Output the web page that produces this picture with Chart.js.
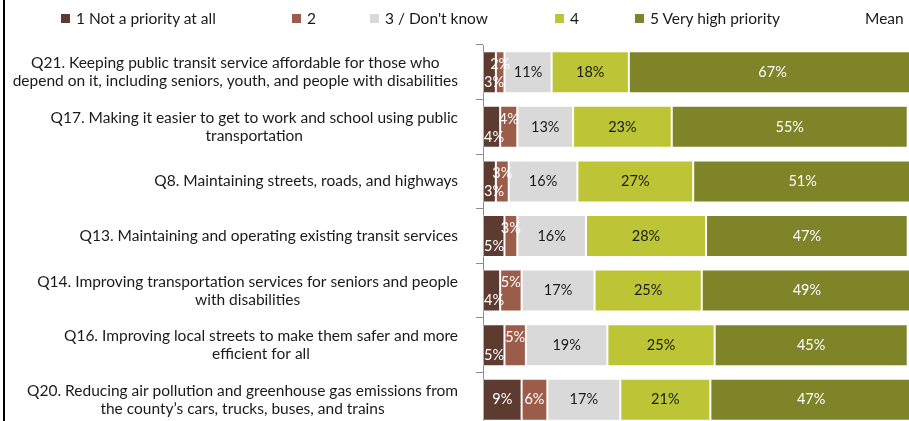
<!DOCTYPE html>
<html><head><meta charset="utf-8">
<script src="https://cdn.jsdelivr.net/npm/chart.js@4/dist/chart.umd.min.js"></script>
<style>
html,body{margin:0;padding:0;background:#fff;overflow:hidden;width:909px;height:421px;}
#wrap{position:relative;width:966px;height:440px;}
#frame{position:absolute;left:3px;top:0;width:2px;height:421px;background:#000;z-index:2}
#legend{position:absolute;left:0;top:9px;width:966px;height:18px;font:15.5px Lato, sans-serif;color:#1a1a1a;line-height:18px;z-index:2}
.item{position:absolute;top:0;display:flex;align-items:center;white-space:nowrap}
.box{width:9px;height:9px;margin-right:6px;display:inline-block}
canvas{display:block}
</style></head>
<body>
<div id="wrap"><div id="frame"></div><div id="legend"></div><canvas id="c" width="966" height="440"></canvas></div>
<script>
const categories = [
  ["Q21. Keeping public transit service affordable for those who", "depend on it, including seniors, youth, and people with disabilities"],
  ["Q17. Making it easier to get to work and school using public", "transportation"],
  ["Q8. Maintaining streets, roads, and highways"],
  ["Q13. Maintaining and operating existing transit services"],
  ["Q14. Improving transportation services for seniors and people", "with disabilities"],
  ["Q16. Improving local streets to make them safer and more", "efficient for all"],
  ["Q20. Reducing air pollution and greenhouse gas emissions from", "the county\u2019s cars, trucks, buses, and trains"]
];
const notPriority = [3, 4, 3, 5, 4, 5, 9];
const two = [2, 4, 3, 3, 5, 5, 6];
const dontKnow = [11, 13, 16, 16, 17, 19, 17];
const four = [18, 23, 27, 28, 25, 25, 21];
const veryHigh = [67, 55, 51, 47, 49, 45, 47];
const legendLabels = ["1 Not a priority at all", "2", "3 / Don't know", "4", "5 Very high priority", "Mean"];

// styles
const colors = ['#5e3b30', '#9b5d4a', '#d9d9d9', '#bdc536', '#7f8428'];
const labelColors = ['#ffffff', '#ffffff', '#1a1a1a', '#1a1a1a', '#ffffff'];
const legendItemLeft = [61, 292, 370, 555, 635, 850];
const series = [notPriority, two, dontKnow, four, veryHigh];

// HTML legend
const leg = document.getElementById('legend');
legendLabels.forEach((t, i) => {
  const it = document.createElement('div'); it.className = 'item';
  it.style.left = legendItemLeft[i] + 'px';
  const b = document.createElement('span'); b.className = 'box';
  b.style.background = i < colors.length ? colors[i] : 'transparent';
  const s = document.createElement('span'); s.textContent = t;
  it.appendChild(b); it.appendChild(s); leg.appendChild(it);
});

const yLabelPlugin = {
  id: 'ylabels',
  afterDraw(chart) {
    const {ctx} = chart; const y = chart.scales.y;
    ctx.save();
    ctx.font = '15.5px Lato, sans-serif';
    ctx.fillStyle = '#1a1a1a';
    ctx.textBaseline = 'middle';
    ctx.textAlign = 'center';
    const right = chart.chartArea.left - 25;
    const lh = 18;
    chart.data.labels.forEach((lab, i) => {
      const lines = Array.isArray(lab) ? lab : [lab];
      const w = Math.max(...lines.map(l => ctx.measureText(l).width));
      const cx = right - w / 2;
      const cy = y.getPixelForValue(i);
      lines.forEach((l, k) => ctx.fillText(l, cx, cy + (k - (lines.length - 1) / 2) * lh));
    });
    ctx.restore();
  }
};

const valueLabelPlugin = {
  id: 'valuelabels',
  afterDatasetsDraw(chart) {
    const {ctx, chartArea} = chart;
    ctx.save();
    ctx.font = '14.5px Lato, sans-serif';
    ctx.textAlign = 'center';
    ctx.textBaseline = 'middle';
    chart.data.datasets.forEach((ds, di) => {
      const meta = chart.getDatasetMeta(di);
      meta.data.forEach((bar, i) => {
        const v = ds.data[i];
        const p = bar.getProps(['x', 'y', 'base'], true);
        const txt = v + '%';
        const hw = ctx.measureText(txt).width / 2;
        let cx = (p.x + p.base) / 2;
        let cy = p.y;
        const stagger = notPriority[i] + two[i] < 12;
        if (stagger && di === 0) cy += 10;
        if (stagger && di === 1) cy -= 8;
        if (cx - hw < chartArea.left + 1) cx = chartArea.left + 1 + hw;
        ctx.fillStyle = labelColors[di];
        ctx.fillText(txt, cx, cy);
      });
    });
    ctx.restore();
  }
};

new Chart(document.getElementById('c').getContext('2d'), {
  type: 'bar',
  data: {
    labels: categories,
    datasets: series.map((d, i) => ({
      label: legendLabels[i],
      data: d,
      backgroundColor: colors[i],
      borderColor: 'rgba(255,255,255,0.3)',
      borderWidth: 1,
      borderSkipped: false,
      categoryPercentage: 1,
      barPercentage: 0.77
    }))
  },
  options: {
    indexAxis: 'y',
    responsive: false,
    animation: false,
    layout: {padding: {top: 45, right: 54, bottom: 13, left: 0}},
    plugins: {legend: {display: false}, tooltip: {enabled: false}},
    scales: {
      x: {stacked: true, min: 0, max: 100, display: false},
      y: {
        stacked: true,
        ticks: {display: false},
        grid: {offset: true, drawOnChartArea: false, drawTicks: true, tickLength: 7, color: '#8c8c8c'},
        border: {display: true, color: '#8c8c8c'},
        afterFit(s) { s.width = 483; }
      }
    }
  },
  plugins: [yLabelPlugin, valueLabelPlugin]
});
</script>
</body></html>
